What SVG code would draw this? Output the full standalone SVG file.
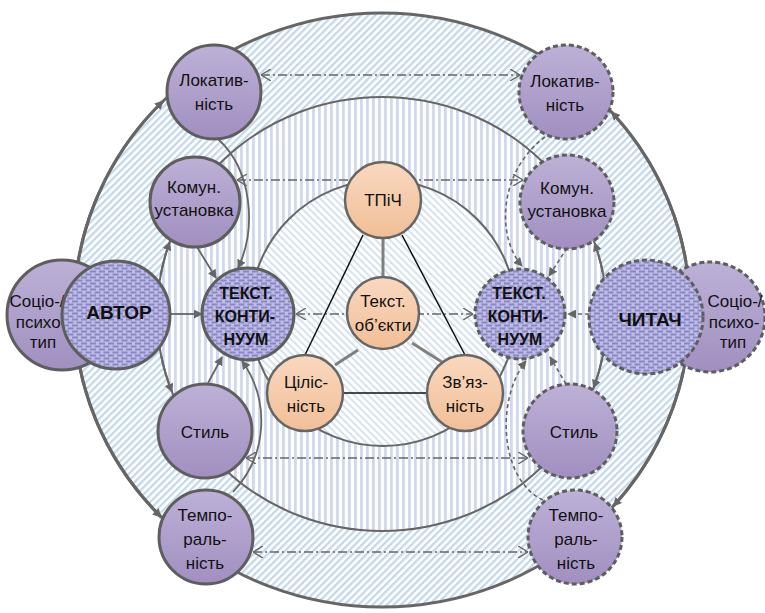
<svg xmlns="http://www.w3.org/2000/svg" width="765" height="613" viewBox="0 0 765 613">
<defs>
  <pattern id="hOuter" width="5" height="5" patternUnits="userSpaceOnUse" patternTransform="rotate(45)"><rect width="5" height="5" fill="#fff"/><rect width="2.3" height="5" fill="#c3d8e9"/></pattern>
  <pattern id="vStripe" width="6" height="6" patternUnits="userSpaceOnUse"><rect width="6" height="6" fill="#fff"/><rect width="2.8" height="6" fill="#d0d8ec"/></pattern>
  <pattern id="hInner" width="5" height="5" patternUnits="userSpaceOnUse" patternTransform="rotate(-45)"><rect width="5" height="5" fill="#fff"/><rect width="2" height="5" fill="#d6e3ee"/></pattern>
  <pattern id="dots" width="9" height="6" patternUnits="userSpaceOnUse"><rect width="9" height="6" fill="#bebde4"/><rect x="0" y="0.5" width="6" height="2" fill="#8a85c4"/><rect x="4.5" y="3.5" width="6" height="2" fill="#8a85c4"/><rect x="-4.5" y="3.5" width="6" height="2" fill="#8a85c4"/></pattern>
  <linearGradient id="gPurple" x1="0" y1="0" x2="0" y2="1"><stop offset="0" stop-color="#bdb1d7"/><stop offset="1" stop-color="#a18fc0"/></linearGradient>
  <linearGradient id="gOrange" x1="0" y1="0" x2="0" y2="1"><stop offset="0" stop-color="#f9d8bf"/><stop offset="1" stop-color="#f1bf97"/></linearGradient>
  <marker id="ah" viewBox="0 0 10 10" refX="9" refY="5" markerWidth="9" markerHeight="9" markerUnits="userSpaceOnUse" orient="auto"><path d="M0,0 L10,5 L0,10 z" fill="#666"/></marker>
  <marker id="oa" viewBox="0 0 10 12" refX="10" refY="6" markerWidth="10" markerHeight="12" markerUnits="userSpaceOnUse" orient="auto-start-reverse"><path d="M0,0 L10,6 L0,12" fill="none" stroke="#666" stroke-width="1.4"/></marker>
</defs>
<style>
  .np { fill:url(#gPurple); stroke:#5e5e5e; stroke-width:3 }
  .nd { stroke-dasharray:5 3 }
  .nt { fill:url(#dots); stroke:#5e5e5e; stroke-width:3 }
  .no { fill:url(#gOrange); stroke:#666; stroke-width:2.5 }
  text { font-family:"Liberation Sans", Arial, sans-serif; font-size:17px; fill:#111; text-anchor:middle }
  .b { font-weight:bold; font-size:16px }
  .big { font-weight:bold; font-size:19px }
  .ring { fill:none; stroke:#666; stroke-width:3 }
  .ring2 { fill:none; stroke:#666; stroke-width:2 }
  .c { fill:none; stroke:#666; stroke-width:1.8 }
  .cd { fill:none; stroke:#666; stroke-width:1.6; stroke-dasharray:4 3 }
  .dd { fill:none; stroke:#666; stroke-width:1.5; stroke-dasharray:9 3 2 3 }
  .tri { stroke:#111; stroke-width:1.5 }
  .grl { stroke:#808080; stroke-width:3 }
</style>
<rect width="765" height="613" fill="#fff"/>

<g id="background">
  <ellipse cx="382" cy="310" rx="308" ry="297" fill="url(#hOuter)" stroke="#666" stroke-width="3"/>
  <ellipse cx="382" cy="314" rx="225" ry="217" fill="url(#vStripe)" stroke="#666" stroke-width="2"/>
  <circle cx="383" cy="313" r="133" fill="url(#hInner)" stroke="#666" stroke-width="2"/>
</g>

<g id="connectors">
  <!-- outer ring arrows -->
  <path class="ring" d="M76.8,270 A308 297 0 0 1 163.2,101" marker-end="url(#ah)"/>
  <path class="ring" d="M78.4,360 A308 297 0 0 0 161.1,517" marker-end="url(#ah)"/>
  <path class="ring" d="M686,262 A308 297 0 0 0 611.6,112" marker-end="url(#ah)"/>
  <path class="ring" d="M683.7,370 A308 297 0 0 1 613.4,506" marker-end="url(#ah)"/>
  <!-- second ring arrows -->
  <path class="ring2" d="M160.7,275 A225 217 0 0 1 169.7,242" marker-end="url(#ah)"/>
  <path class="ring2" d="M161,355 A225 217 0 0 0 172,392" marker-end="url(#ah)"/>
  <path class="ring2" d="M602.7,272 A225 217 0 0 0 594.6,243" marker-end="url(#ah)"/>
  <path class="ring2" d="M602.3,358 A225 217 0 0 1 593.5,388" marker-end="url(#ah)"/>
  <!-- left (author) side -->
  <path class="c" stroke-width="2.5" d="M170,314 L202,314" marker-end="url(#ah)"/>
  <path class="c" d="M197,247 L216,278" marker-end="url(#ah)"/>
  <path class="c" d="M218,139 C252,170 257,228 238,268" marker-end="url(#ah)"/>
  <path class="c" d="M208,383 L222,357" marker-end="url(#ah)"/>
  <path class="c" d="M233,492 C268,455 270,400 242,361" marker-end="url(#ah)"/>
  <!-- right (reader) side -->
  <path class="cd" d="M589,314 L568,314" marker-end="url(#ah)"/>
  <path class="cd" d="M567,248 L549,276" marker-end="url(#ah)"/>
  <path class="cd" d="M545,137 C500,170 495,235 522,266" marker-end="url(#ah)"/>
  <path class="cd" d="M566,384 L550,357" marker-end="url(#ah)"/>
  <path class="cd" d="M543,500 C500,480 495,400 526,361" marker-end="url(#ah)"/>
  <!-- horizontal dash-dot two-way links -->
  <path class="dd" d="M261,75 L520,75" marker-start="url(#oa)" marker-end="url(#oa)"/>
  <path class="dd" d="M237,180 L523,180" marker-start="url(#oa)" marker-end="url(#oa)"/>
  <path class="dd" d="M296,314 L473,314" stroke="#7a7a7a" marker-start="url(#oa)" marker-end="url(#oa)"/>
  <path class="dd" d="M246,458 L528,458" marker-start="url(#oa)" marker-end="url(#oa)"/>
  <path class="dd" d="M253,552 L528,552" marker-start="url(#oa)" marker-end="url(#oa)"/>
  <!-- triangle -->
  <line class="tri" x1="363" y1="235" x2="305" y2="355"/>
  <line class="tri" x1="402" y1="235" x2="465" y2="355"/>
  <line class="tri" x1="343" y1="393" x2="427" y2="393"/>
  <line class="grl" x1="383" y1="238" x2="383" y2="277"/>
  <line class="grl" x1="358" y1="350" x2="335" y2="365"/>
  <line class="grl" x1="412" y1="343" x2="442" y2="362"/>
</g>

<g id="socio-left"><circle class="np" cx="62" cy="315" r="55"/>
  <text x="37" y="307">Соціо-/</text><text x="41" y="328">психо-</text><text x="43" y="348">тип</text></g>
<g id="avtor"><circle class="nt" cx="116" cy="315" r="54"/><text class="big" x="119" y="319">АВТОР</text></g>
<g id="socio-right"><circle class="np nd" cx="710" cy="317" r="55"/>
  <text x="735" y="307">Соціо-/</text><text x="734" y="328">психо-</text><text x="733" y="348">тип</text></g>
<g id="chytach"><circle class="nt nd" cx="646" cy="317" r="57"/><text class="big" x="650" y="326">ЧИТАЧ</text></g>

<g id="tk-left"><circle class="nt" cx="248" cy="314" r="46"/>
  <text class="b" x="246" y="299">ТЕКСТ.</text><text class="b" x="245" y="322">КОНТИ-</text><text class="b" x="246" y="345">НУУМ</text></g>
<g id="tk-right"><circle class="nt nd" cx="520" cy="314" r="45"/>
  <text class="b" x="519" y="299">ТЕКСТ.</text><text class="b" x="518" y="322">КОНТИ-</text><text class="b" x="520" y="345">НУУМ</text></g>

<g id="lok-left"><circle class="np" cx="214" cy="92" r="47"/><text x="214" y="86">Локатив-</text><text x="214" y="110">ність</text></g>
<g id="kom-left"><circle class="np" cx="195" cy="202" r="45"/><text x="194" y="193">Комун.</text><text x="194" y="216">установка</text></g>
<g id="styl-left"><circle class="np" cx="205" cy="431" r="47"/><text x="205" y="438">Стиль</text></g>
<g id="temp-left"><circle class="np" cx="206" cy="537" r="47"/><text x="205" y="521">Темпо-</text><text x="205" y="545">раль-</text><text x="205" y="569">ність</text></g>

<g id="lok-right"><circle class="np nd" cx="566" cy="92" r="47"/><text x="565" y="87">Локатив-</text><text x="565" y="111">ність</text></g>
<g id="kom-right"><circle class="np nd" cx="567" cy="202" r="47"/><text x="567" y="194">Комун.</text><text x="567" y="217">установка</text></g>
<g id="styl-right"><circle class="np nd" cx="570" cy="431" r="47"/><text x="574" y="438">Стиль</text></g>
<g id="temp-right"><circle class="np nd" cx="575" cy="537" r="47"/><text x="576" y="521">Темпо-</text><text x="576" y="545">раль-</text><text x="576" y="569">ність</text></g>

<g id="tpich"><circle class="no" cx="383" cy="200" r="38"/><text x="383" y="206">ТПіЧ</text></g>
<g id="tekst-obekty"><circle class="no" cx="383" cy="313" r="36"/><text x="383" y="307">Текст.</text><text x="383" y="331">об’єкти</text></g>
<g id="tsilisnist"><circle class="no" cx="305" cy="393" r="38"/><text x="306" y="388">Ціліс-</text><text x="306" y="412">ність</text></g>
<g id="zviaznist"><circle class="no" cx="465" cy="393" r="38"/><text x="465" y="388">Зв’яз-</text><text x="465" y="412">ність</text></g>
</svg>
